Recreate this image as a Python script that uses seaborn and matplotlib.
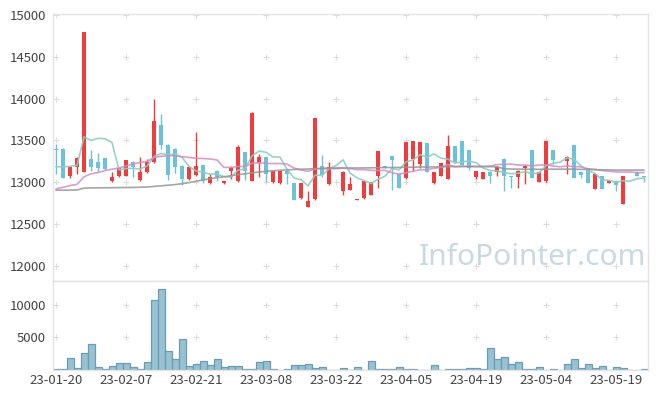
import numpy as np
import pandas as pd
import matplotlib
matplotlib.use("Agg")
import matplotlib.pyplot as plt
import seaborn as sns

# trading days (KRX calendar, holidays skipped)
holidays = ["2023-01-23", "2023-01-24", "2023-03-01", "2023-05-01", "2023-05-05"]
dates = pd.bdate_range("2023-01-20", periods=85, freq="C", holidays=holidays)

opens = [13400, 13400, 13070, 13180, 13120, 13280, 13240, 13290, 13010, 13070,
         13080, 13240, 13030, 13120, 13240, 13680, 13450, 13400, 13190, 13040,
         13090, 13210, 12990, 13140, 12990, 13140, 13010, 13360, 13020, 13230,
         13300, 13000, 12990, 13140, 12990, 12810, 12710, 12800, 13190, 12980,
         13180, 12890, 12910, 12790, 12810, 12850, 13080, 13190, 13310, 13100,
         13050, 13280, 13220, 13470, 12990, 13080, 13040, 13430, 13490, 13380,
         13060, 13040, 13120, 13120, 13280, 13070, 13060, 13170, 13380, 13000,
         13010, 13380, 13270, 13255, 13440, 13120, 13170, 12920, 13070, 12990,
         13020, 12740, 13075, 13120, 13080]
highs = [13460, 13410, 13190, 13300, 14800, 13380, 13350, 13290, 13120, 13180,
         13270, 13250, 13300, 13280, 14000, 13820, 13460, 13410, 13200, 13190,
         13600, 13210, 13100, 13150, 13020, 13190, 13440, 13360, 13840, 13340,
         13300, 13150, 13140, 13150, 12990, 12990, 12900, 13770, 13320, 13240,
         13180, 13130, 13060, 12800, 13020, 13000, 13370, 13190, 13310, 13110,
         13480, 13490, 13480, 13470, 13120, 13230, 13560, 13430, 13490, 13380,
         13140, 13120, 13130, 13190, 13290, 13070, 13150, 13200, 13380, 13120,
         13490, 13380, 13270, 13310, 13440, 13120, 13170, 13100, 13070, 13020,
         13020, 13080, 13075, 13120, 13080]
lows = [13100, 13050, 13050, 13100, 13120, 13130, 13120, 13150, 13000, 13060,
        13070, 13060, 13020, 13110, 13230, 13400, 13030, 13110, 12970, 13030,
        13080, 12990, 12980, 13020, 12980, 13040, 13000, 13030, 13010, 13060,
        13000, 12990, 12980, 12980, 12790, 12800, 12700, 12790, 13060, 12970,
        13180, 12850, 12910, 12790, 12800, 12850, 12930, 13175, 12910, 12930,
        13040, 13130, 13170, 13120, 12980, 13075, 13040, 13240, 13200, 13150,
        13040, 13040, 12990, 13080, 12900, 12930, 12930, 12980, 13050, 13000,
        13000, 13220, 13270, 13095, 13050, 13050, 12990, 12920, 12920, 12990,
        12900, 12740, 13070, 13070, 13000]
closes = [13390, 13050, 13180, 13290, 14800, 13180, 13170, 13160, 13060, 13170,
          13260, 13180, 13120, 13240, 13730, 13450, 13090, 13180, 13040, 13180,
          13190, 13010, 13060, 13060, 13010, 13170, 13420, 13140, 13830, 13300,
          13100, 13140, 13130, 13100, 12790, 12990, 12770, 13770, 13090, 13180,
          13180, 13120, 12980, 12800, 13020, 13000, 13370, 13175, 13260, 12930,
          13480, 13490, 13480, 13120, 13120, 13230, 13430, 13240, 13200, 13170,
          13130, 13120, 13080, 13180, 13070, 13060, 13140, 13190, 13050, 13120,
          13490, 13270, 13270, 13300, 13050, 13090, 12990, 13100, 12920, 13020,
          12970, 13080, 13070, 13070, 13060]
volumes = [150, 150, 1800, 250, 2560, 3950, 400, 100, 560, 1030,
           1030, 400, 100, 1180, 10720, 12400, 2870, 1640, 4720, 560,
           870, 1330, 720, 1640, 400, 560, 560, 100, 100, 1180,
           1330, 100, 0, 200, 800, 800, 960, 350, 500, 0,
           0, 350, 0, 500, 0, 1300, 100, 200, 100, 500,
           100, 100, 0, 0, 800, 0, 100, 100, 100, 350,
           350, 200, 3380, 1720, 2020, 960, 1260, 200, 100, 500,
           0, 100, 0, 960, 1720, 350, 870, 250, 560, 0,
           400, 250, 0, 0, 100]

# moving averages: the first values need history before the window
ma5_head = [13185, 13185, 13190, 13200]
ma20_head = [12920, 12940, 12960, 12975, 13065, 13100, 13115, 13140, 13155, 13170,
             13195, 13220, 13235, 13250, 13295, 13310, 13315, 13318, 13305]
ma60 = [12905, 12905, 12905, 12908, 12930, 12932, 12933, 12934, 12935, 12936,
        12937, 12938, 12940, 12943, 12950, 12957, 12964, 12972, 12982, 12995,
        13012, 13028, 13042, 13055, 13066, 13078, 13090, 13100, 13112, 13122,
        13130, 13137, 13143, 13148, 13152, 13155, 13158, 13163, 13166, 13168,
        13170, 13170, 13170, 13170, 13171, 13172, 13174, 13175, 13176, 13176,
        13178, 13180, 13182, 13183, 13183, 13184, 13186, 13187, 13188, 13188,
        13188, 13187, 13186, 13185, 13160, 13158, 13157, 13156, 13155, 13154,
        13155, 13156, 13156, 13157, 13156, 13154, 13152, 13150, 13148, 13147,
        13146, 13146, 13145, 13145, 13145]

price_ticks = [12000, 12500, 13000, 13500, 14000, 14500, 15000]
vol_ticks = [5000, 10000]
tick_step = 10

UP = "#f03c3c"
DOWN = "#6cc2d8"
GRID = "#e4e4e4"

df = pd.DataFrame({"date": dates, "open": opens, "high": highs, "low": lows,
                   "close": closes, "volume": volumes})
df["idx"] = np.arange(len(df))
ma5 = df["close"].rolling(5).mean()
ma5.iloc[:4] = ma5_head
ma20 = df["close"].rolling(20).mean()
ma20.iloc[:19] = ma20_head
df["ma5"] = ma5
df["ma20"] = ma20
df["ma60"] = ma60

sns.set_theme(style="white")
plt.rcParams["font.family"] = ["Noto Sans CJK KR", "DejaVu Sans"]

fig = plt.figure(figsize=(6.57, 3.99), dpi=100)
W, H = 657, 399
ax = fig.add_axes([53 / W, 118 / H, 595 / W, 267 / H])
axv = fig.add_axes([53 / W, 29 / H, 595 / W, 89 / H], sharex=ax)

up = df["close"] >= df["open"]
colors = np.where(up, UP, DOWN)

# candles
ax.vlines(df["idx"], df["low"], df["high"], colors=colors, linewidth=1.0, zorder=2)
body_lo = np.minimum(df["open"], df["close"])
body_h = np.abs(df["close"] - df["open"])
ax.bar(df["idx"], body_h, bottom=body_lo, width=0.62, color=colors,
       linewidth=0, zorder=2)

# moving averages
sns.lineplot(data=df, x="idx", y="ma5", ax=ax, color="#8ccdbe", linewidth=1.2,
             alpha=0.9, zorder=3)
sns.lineplot(data=df, x="idx", y="ma20", ax=ax, color="#d08cc8", linewidth=1.2,
             alpha=0.85, zorder=3)
sns.lineplot(data=df, x="idx", y="ma60", ax=ax, color="#969696", linewidth=1.2,
             alpha=0.85, zorder=3)

# volume
sns.barplot(data=df, x="idx", y="volume", ax=axv, native_scale=True,
            color="#98c1d1", saturation=1, width=1.0, edgecolor="#6a9db4",
            linewidth=0.9, errorbar=None, zorder=2)

xt = list(range(0, len(df), tick_step))
for a in (ax, axv):
    a.set_xlim(-0.43, 84.57)
    a.set_xlabel("")
    a.set_ylabel("")
    for s in a.spines.values():
        s.set_color(GRID)
        s.set_linewidth(1.0)
    a.tick_params(length=0, labelsize=9.5, colors="#444444", pad=5)

ax.set_ylim(11820, 15010)
ax.set_yticks(price_ticks)
ax.tick_params(labelbottom=False)
axv.set_ylim(0, 13600)
axv.set_yticks(vol_ticks)
axv.set_xticks(xt)
axv.set_xticklabels([df["date"][i].strftime("%y-%m-%d") for i in xt])
axv.tick_params(axis="x", pad=3)

# "+" grid markers
gx, gy = np.meshgrid(xt, price_ticks)
ax.scatter(gx.ravel(), gy.ravel(), marker="+", s=14, color="#dcdcdc",
           linewidths=0.8, zorder=1)
gx, gy = np.meshgrid(xt, vol_ticks)
axv.scatter(gx.ravel(), gy.ravel(), marker="+", s=14, color="#dcdcdc",
            linewidths=0.8, zorder=1)

ax.text(0.615, 0.088, "InfoPointer.com", transform=ax.transAxes, ha="left",
        va="center", fontsize=21.5, color="#c9d9e2", family="Noto Sans", zorder=0)

fig.savefig("out.png", dpi=100)
